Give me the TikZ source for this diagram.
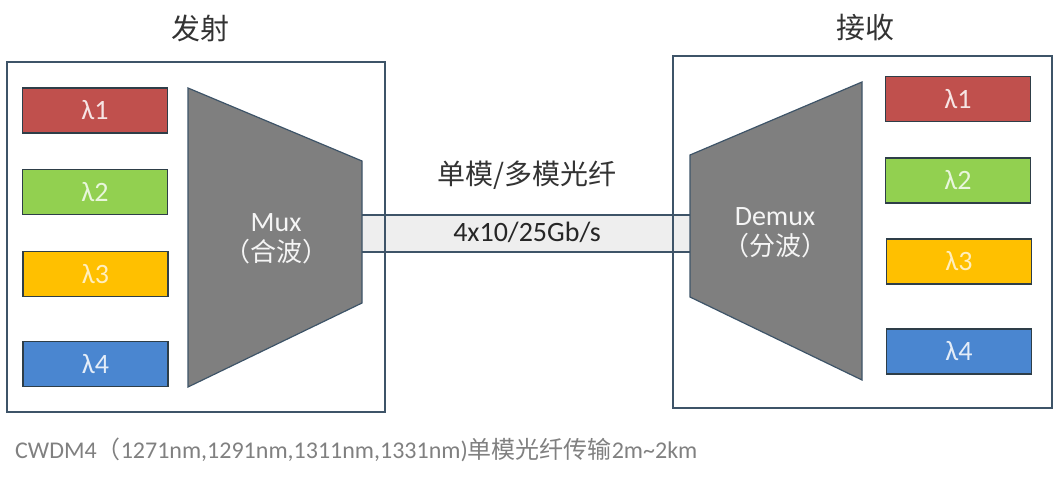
\documentclass[tikz,border=0pt]{standalone}
\usepackage{fontspec}
\setmainfont{Carlito}
\newfontfamily\cjk{Noto Sans CJK SC}
\definecolor{boxline}{HTML}{3E5468}
\definecolor{rectline}{HTML}{2E3E48}
\definecolor{lred}{HTML}{C0504D}
\definecolor{lgreen}{HTML}{92D050}
\definecolor{lyellow}{HTML}{FFC000}
\definecolor{lblue}{HTML}{4A86D0}
\definecolor{trap}{HTML}{7F7F7F}
\definecolor{band}{HTML}{EEEEEE}
\definecolor{titlecol}{HTML}{333333}
\definecolor{capcol}{HTML}{808080}
\begin{document}
\begin{tikzpicture}[x=1pt,y=-1pt,
  frame/.style={draw=boxline, line width=1.5pt},
  lam/.style={draw=rectline, line width=1.3pt, minimum width=145pt, minimum height=45pt, inner sep=0pt, font=\fontsize{28}{32}\selectfont},
  trapz/.style={fill=trap, draw=boxline, line width=1.2pt},
  traptext/.style={text=white!92!gray, font=\fontsize{28}{33}\selectfont, align=center},
  fiber/.style={draw=boxline, line width=1.5pt},
  title/.style={text=titlecol, font=\cjk\fontsize{29}{32}\selectfont},
]
\useasboundingbox (0,0) rectangle (1053,479);
% fiber band
\fill[band] (362,215) rectangle (690,252);
% frames
\node[frame, minimum width=378pt, minimum height=350pt, inner sep=0pt] (tx) at (196,237) {};
\node[frame, minimum width=379pt, minimum height=352pt, inner sep=0pt] (rx) at (862.5,232) {};
\node[title] (txt) at (200,28) {发射};
\node[title] (rxt) at (865,28) {接收};
% left lambdas
\node[lam, fill=lred, text=white!85!lred] (l1) at (95,110.5) {λ1};
\node[lam, fill=lgreen, text=white!80!lgreen] (l2) at (95,192) {λ2};
\node[lam, fill=lyellow, text=white!75!lyellow] (l3) at (95.5,274) {λ3};
\node[lam, fill=lblue, text=white!85!lblue] (l4) at (95.5,364) {λ4};
% right lambdas
\node[lam, fill=lred, text=white!85!lred] (r1) at (958,99) {λ1};
\node[lam, fill=lgreen, text=white!80!lgreen] (r2) at (958,180.5) {λ2};
\node[lam, fill=lyellow, text=white!75!lyellow] (r3) at (959,261.5) {λ3};
\node[lam, fill=lblue, text=white!85!lblue] (r4) at (959,351.5) {λ4};
% mux
\coordinate (m1) at (188,88);
\coordinate (m2) at (362,161);
\coordinate (m3) at (362,303);
\coordinate (m4) at (188,387);
\draw[trapz] (m1) -- (m2) -- (m3) -- (m4) -- cycle;
\node[traptext] (mux) at (276,239) {Mux\\[-3pt]{\cjk\fontsize{26}{30}\selectfont （合波）}};
% demux
\coordinate (d1) at (690,155);
\coordinate (d2) at (862,82);
\coordinate (d3) at (862,380);
\coordinate (d4) at (690,297);
\draw[trapz] (d1) -- (d2) -- (d3) -- (d4) -- cycle;
\node[traptext] (demux) at (775,233) {Demux\\[-3pt]{\cjk\fontsize{26}{30}\selectfont （分波）}};
% fiber
\coordinate (ft1) at (362,215);
\coordinate (fb1) at (362,252);
\coordinate (ft2) at (690,215);
\coordinate (fb2) at (690,252);
\draw[fiber] (ft1) -- (ft2);
\draw[fiber] (fb1) -- (fb2);
\node[text=titlecol, font=\cjk\fontsize{28}{32}\selectfont] (fibtxt) at (527,175) {单模/多模光纤};
\node[text=black!85, font=\fontsize{28}{32}\selectfont] (rate) at (527,232) {4x10/25Gb/s};
% caption
\node[anchor=west, text=capcol, font=\fontsize{24}{28}\selectfont, inner sep=0pt] (cap) at (15,450) {CWDM4{\cjk （}1271nm,1291nm,1311nm,1331nm){\cjk 单模光纤传输}2m\textasciitilde 2km};
\end{tikzpicture}
\end{document}
